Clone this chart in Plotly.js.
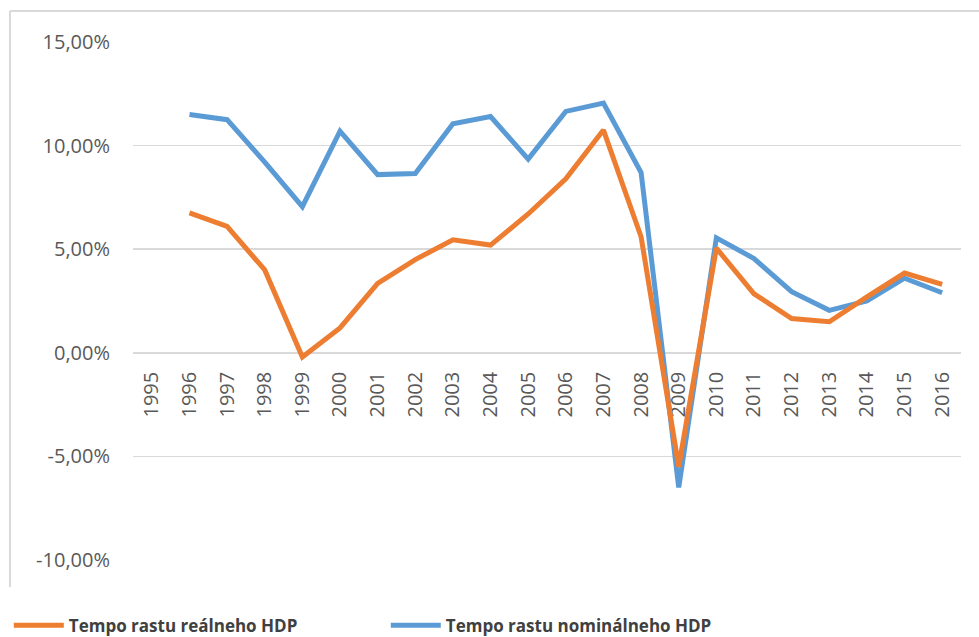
<!DOCTYPE html>
<html>
<head>
<meta charset="utf-8">
<script src="https://cdn.plot.ly/plotly-3.0.1.min.js"></script>
<style>html,body{margin:0;padding:0;background:#fff;}#chart{width:979px;height:637px;}</style>
</head>
<body>
<div id="chart"></div>
<script>
const years = ['1995','1996','1997','1998','1999','2000','2001','2002','2003','2004','2005','2006','2007','2008','2009','2010','2011','2012','2013','2014','2015','2016'];
const realGrowth = [null, 6.75, 6.1, 4.0, -0.2, 1.2, 3.35, 4.5, 5.45, 5.2, 6.7, 8.4, 10.75, 5.6, -5.5, 5.05, 2.85, 1.65, 1.5, 2.7, 3.85, 3.3];
const nominalGrowth = [null, 11.5, 11.25, 9.2, 7.05, 10.7, 8.6, 8.65, 11.05, 11.4, 9.35, 11.65, 12.05, 8.7, -6.5, 5.55, 4.55, 2.95, 2.05, 2.5, 3.6, 2.9];
const yTicks = [-10, -5, 0, 5, 10, 15];
const yTickLabels = ['-10,00%', '-5,00%', '0,00%', '5,00%', '10,00%', '15,00%'];
const seriesNames = ['Tempo rastu reálneho HDP', 'Tempo rastu nominálneho HDP'];

const data = [
  {
    x: years, y: nominalGrowth, name: seriesNames[1], type: 'scatter', mode: 'lines',
    line: {color: '#5B9BD5', width: 5}, connectgaps: false, hoverinfo: 'skip'
  },
  {
    x: years, y: realGrowth, name: seriesNames[0], type: 'scatter', mode: 'lines',
    line: {color: '#ED7D31', width: 5}, connectgaps: false, hoverinfo: 'skip'
  }
];

const layout = {
  width: 979, height: 637,
  margin: {l: 133, r: 18, t: 42, b: 77, autoexpand: false},
  paper_bgcolor: '#ffffff', plot_bgcolor: '#ffffff',
  font: {family: 'Open Sans, sans-serif', color: '#595959'},
  xaxis: {
    type: 'category', range: [-0.5, 21.5],
    anchor: 'free', position: 0.4,
    showgrid: false, showline: false, zeroline: false,
    tickangle: -90, ticks: '', ticklabelstandoff: 14,
    tickfont: {family: 'Open Sans, sans-serif', size: 20, color: '#595959'},
    layer: 'below traces', fixedrange: true, automargin: false
  },
  yaxis: {
    range: [-10, 15], tickvals: yTicks, ticktext: yTickLabels,
    showgrid: true, gridcolor: '#d9d9d9', gridwidth: 1.5,
    zeroline: true, zerolinecolor: '#d9d9d9', zerolinewidth: 2,
    showline: false, ticks: '', ticklabelstandoff: 22,
    tickfont: {family: 'Open Sans, sans-serif', size: 20, color: '#595959'},
    fixedrange: true, automargin: false
  },
  showlegend: true,
  legend: {
    orientation: 'h', traceorder: 'reversed',
    x: -0.15, xanchor: 'left', y: -0.092, yanchor: 'top',
    entrywidth: 312, entrywidthmode: 'pixels', itemwidth: 50,
    font: {family: 'Open Sans, sans-serif', size: 17, color: '#404040', weight: 'bold'},
    bgcolor: 'rgba(0,0,0,0)'
  },
  shapes: [
    {type: 'line', xref: 'paper', yref: 'paper', x0: -0.1486, x1: -0.1486, y0: -0.052, y1: 1.06,
     line: {color: '#d9d9d9', width: 2}, layer: 'below'},
    {type: 'line', xref: 'paper', yref: 'paper', x0: -0.1486, x1: 1.03, y0: 1.06, y1: 1.06,
     line: {color: '#d9d9d9', width: 2}, layer: 'below'}
  ]
};

Plotly.newPlot('chart', data, layout, {displayModeBar: false, staticPlot: true});
</script>
</body>
</html>
